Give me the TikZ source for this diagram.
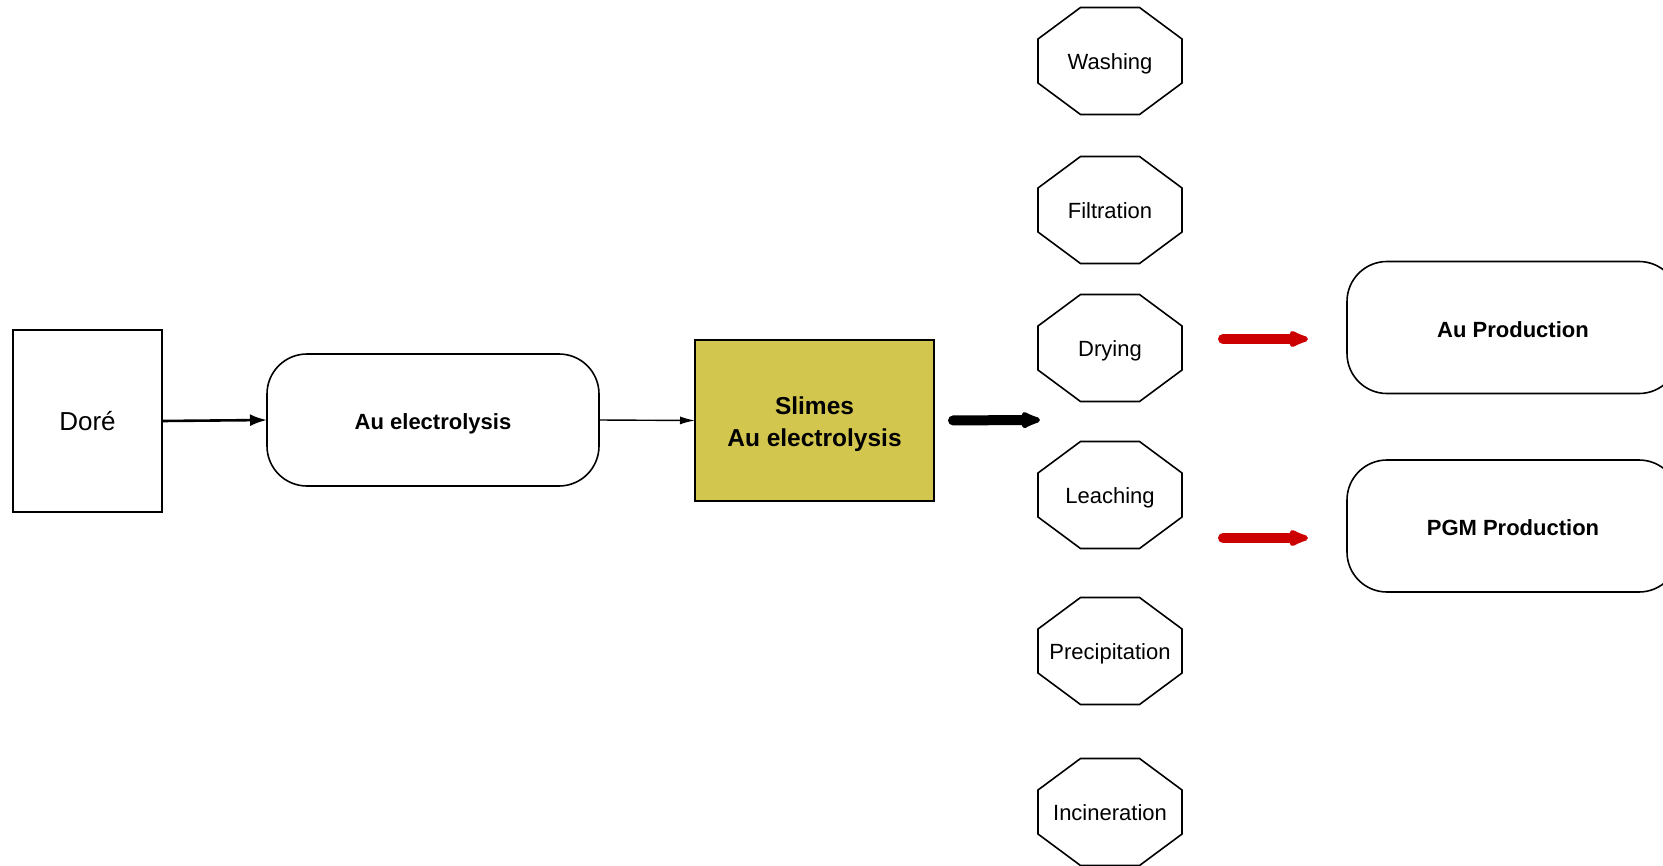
\documentclass[tikz,border=0pt]{standalone}
\usepackage{fontspec}
\setmainfont{Liberation Sans}
\usetikzlibrary{arrows.meta}
\definecolor{slimefill}{HTML}{D2C64E}
\definecolor{flowred}{HTML}{CC0000}
\begin{document}
\begin{tikzpicture}[x=1pt,y=-1pt,
  box/.style={draw,line width=1.6pt,inner sep=0pt,outer sep=0pt},
  roundbox/.style={box,rounded corners=40pt,minimum width=332pt,minimum height=132pt,
    text height=19.5pt,text depth=0pt,font=\fontsize{22}{26}\selectfont\bfseries},
  octo/.style={inner sep=0pt,outer sep=0pt,minimum width=144pt,minimum height=107pt,
    text height=16pt,text depth=0pt,font=\fontsize{22}{26}\selectfont},
  octoline/.style={line width=1.6pt,line join=miter},
  thinflow/.style={-{Latex[length=15pt,width=8pt]},line width=1.4pt},
  midflow/.style={-{Latex[length=17pt,width=12pt]},line width=2.6pt},
  fatflow/.style={-{Latex[round,length=26pt,width=20pt]},line width=10pt,line cap=round},
]
\useasboundingbox (0,0) rectangle (1663,865);
\clip (0,0) rectangle (1663,865);

% feed and first refining step
\node[box,minimum width=149pt,minimum height=182pt,text height=19pt,text depth=0pt,
  font=\fontsize{26}{30}\selectfont] (dore) at (87.5,421) {Doré};
\node[roundbox] (auel) at (433,420) {Au electrolysis};
\node[box,fill=slimefill,minimum width=239pt,minimum height=161pt,align=center,
  text height=52pt,text depth=0pt,
  font=\fontsize{24.5}{32}\selectfont\bfseries] (slimes) at (814.5,420.5) {Slimes\\Au electrolysis};

% slimes treatment steps
\node[octo] (wash) at (1110,61) {Washing};
\node[octo] (filt) at (1110,210) {Filtration};
\node[octo] (dry) at (1110,348) {Drying};
\node[octo] (leach) at (1110,495) {Leaching};
\node[octo] (prec) at (1110,651) {Precipitation};
\node[octo] (incin) at (1110,812) {Incineration};
\foreach \n in {wash,filt,dry,leach,prec,incin}
  \draw[octoline] ([xshift=-29.5pt]\n.north) -- ([xshift=29.5pt]\n.north)
    -- ([yshift=-31.5pt]\n.north east) -- ([yshift=31.5pt]\n.south east)
    -- ([xshift=29.5pt]\n.south) -- ([xshift=-29.5pt]\n.south)
    -- ([yshift=31.5pt]\n.south west) -- ([yshift=-31.5pt]\n.north west) -- cycle;

% products
\node[roundbox] (auprod) at (1513,327.5) {Au Production};
\node[roundbox] (pgm) at (1513,526) {PGM Production};

% connectors
\coordinate (steps) at (1040,420);
\coordinate (aufrom) at (1218,339);
\coordinate (auto) at (1308,339);
\coordinate (pgmfrom) at (1218,538);
\coordinate (pgmto) at (1308,538);

\draw[midflow] (dore.east) -- (auel.west);
\draw[thinflow] (auel.east) -- (slimes.west);
\draw[fatflow,shorten <=19pt] (slimes.east) -- (steps);
\draw[fatflow,flowred,shorten <=5pt] (aufrom) -- (auto);
\draw[fatflow,flowred,shorten <=5pt] (pgmfrom) -- (pgmto);
\end{tikzpicture}
\end{document}
